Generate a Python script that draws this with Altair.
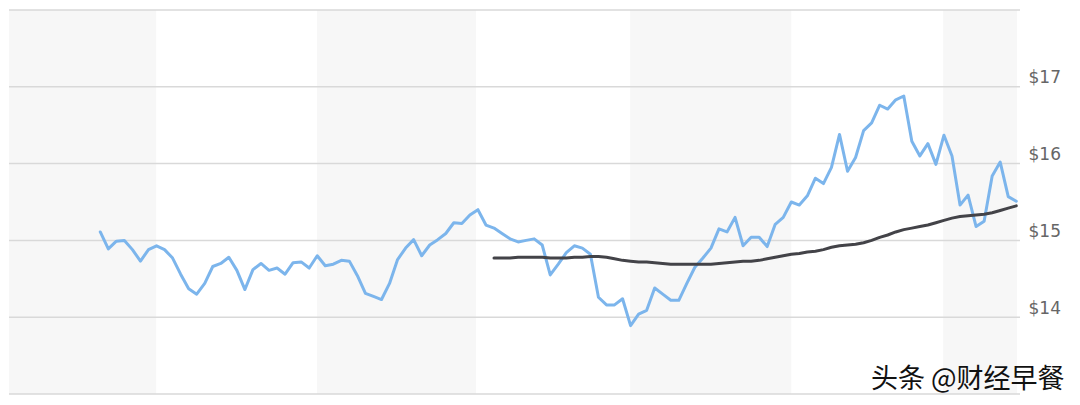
import altair as alt
import pandas as pd

# Daily closing price (trading-day index 0..114)
price = [
    15.11, 14.89, 14.99, 15.00, 14.88, 14.73, 14.88, 14.93, 14.88, 14.77,
    14.56, 14.37, 14.30, 14.44, 14.66, 14.70, 14.78, 14.61, 14.36, 14.62,
    14.70, 14.61, 14.64, 14.56, 14.71, 14.72, 14.64, 14.80, 14.67, 14.69,
    14.74, 14.73, 14.54, 14.31, 14.27, 14.23, 14.44, 14.75, 14.90, 15.01,
    14.80, 14.94, 15.01, 15.09, 15.23, 15.22, 15.33, 15.40, 15.20, 15.16,
    15.09, 15.02, 14.98, 15.00, 15.02, 14.94, 14.55, 14.69, 14.84, 14.93,
    14.90, 14.82, 14.26, 14.16, 14.16, 14.24, 13.89, 14.04, 14.09, 14.38,
    14.30, 14.22, 14.22, 14.44, 14.65, 14.77, 14.90, 15.15, 15.11, 15.30,
    14.93, 15.04, 15.04, 14.92, 15.21, 15.30, 15.50, 15.46, 15.58, 15.81,
    15.74, 15.95, 16.38, 15.90, 16.08, 16.43, 16.53, 16.76, 16.71, 16.83,
    16.88, 16.29, 16.10, 16.26, 15.99, 16.37, 16.10, 15.46, 15.59, 15.18,
    15.25, 15.84, 16.02, 15.57, 15.51,
]

# 50-day moving average, starting at day 49
ma_start = 49
ma50 = [
    14.77, 14.77, 14.77, 14.78, 14.78, 14.78, 14.78, 14.77, 14.77, 14.77,
    14.78, 14.78, 14.79, 14.79, 14.78, 14.76, 14.74, 14.73, 14.72, 14.72,
    14.71, 14.70, 14.69, 14.69, 14.69, 14.69, 14.69, 14.69, 14.70, 14.71,
    14.72, 14.73, 14.73, 14.74, 14.76, 14.78, 14.80, 14.82, 14.83, 14.85,
    14.86, 14.88, 14.91, 14.93, 14.94, 14.95, 14.97, 15.00, 15.04, 15.07,
    15.11, 15.14, 15.16, 15.18, 15.20, 15.23, 15.26, 15.29, 15.31, 15.32,
    15.33, 15.34, 15.36, 15.39, 15.42, 15.45,
]

# Shaded month bands (in trading-day units)
band_start = [-12.0, 26.97, 65.95, 104.9]
band_end = [6.95, 46.75, 86.0, 114.1]

grid_values = [13, 14, 15, 16, 17, 18]
tick_values = [14, 15, 16, 17]

WATERMARK = "头条 @财经早餐"

W, H = 1008, 384

price_df = pd.DataFrame({"day": list(range(len(price))), "price": price})
ma_df = pd.DataFrame({"day": [ma_start + i for i in range(len(ma50))], "ma": ma50})
band_df = pd.DataFrame({"start": band_start, "end": band_end})
grid_df = pd.DataFrame({"v": grid_values})

xscale = alt.Scale(domain=[-11.36, 114.09], nice=False, zero=False)
yscale = alt.Scale(domain=[13, 18], nice=False, zero=False)
yaxis = alt.Axis(
    orient="right", values=tick_values, labelExpr="'$' + datum.value",
    grid=False, domain=False, ticks=False, labelPadding=11,
    labelFont="DejaVu Sans", labelFontSize=17, labelColor="#666666",
    labelBaseline="alphabetic", labelOffset=-4, title=None,
)

bands = alt.Chart(band_df).mark_rect(color="#f7f7f7", clip=True).encode(
    x=alt.X("start:Q", scale=xscale, axis=None),
    x2="end:Q",
    y=alt.value(0),
    y2=alt.value(H),
)

grid = alt.Chart(grid_df).mark_rule(color="#d9d9d9", strokeWidth=1.5).encode(
    y=alt.Y("v:Q", scale=yscale, axis=yaxis),
    x=alt.value(0),
    x2=alt.value(W + 3),
)

price_line = alt.Chart(price_df).mark_line(
    color="#7cb5ec", strokeWidth=3, strokeJoin="round", strokeCap="round"
).encode(
    x=alt.X("day:Q", scale=xscale, axis=None),
    y=alt.Y("price:Q", scale=yscale, axis=yaxis),
)

ma_line = alt.Chart(ma_df).mark_line(
    color="#434348", strokeWidth=3, strokeJoin="round", strokeCap="round"
).encode(
    x=alt.X("day:Q", scale=xscale, axis=None),
    y=alt.Y("ma:Q", scale=yscale, axis=yaxis),
)

mark = alt.Chart(pd.DataFrame({"t": [WATERMARK]})).mark_text(
    font="Noto Sans CJK SC", fontSize=27, color="#111111",
    align="left", baseline="middle",
).encode(
    x=alt.value(862),
    y=alt.value(370),
    text="t:N",
)

chart = alt.layer(bands, grid, price_line, ma_line, mark).properties(
    width=W, height=H,
    padding={"left": 0, "top": 1, "right": 4, "bottom": 0},
).configure_view(strokeWidth=0)

chart.save("out.html", embed_options={"renderer": "svg", "actions": False})
